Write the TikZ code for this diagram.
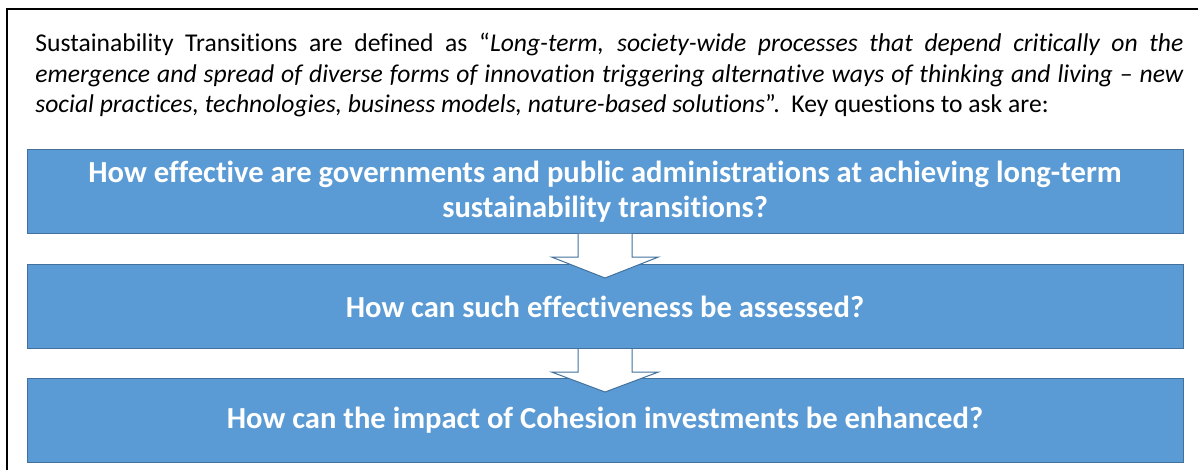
\documentclass[tikz,border=0pt]{standalone}
\usepackage{fontspec}
\setmainfont{Carlito}[Ligatures=NoCommon]
\usetikzlibrary{positioning,calc}
\definecolor{qblue}{HTML}{5B9BD5}
\definecolor{qline}{HTML}{41719C}
\tikzset{
  question/.style={fill=qblue, draw=qline, line width=0.5pt, text=white,
    font=\fontsize{15.3}{17.8}\selectfont\bfseries, align=center,
    minimum width=578pt, minimum height=42pt, inner sep=0pt},
  downarrow/.style={fill=white, draw=qline, line width=0.5pt}
}
\begin{document}
\begin{tikzpicture}[x=0.5pt,y=-0.5pt]
    \useasboundingbox (0,0) rectangle (1198,470);
    % frame
    \draw[line width=1pt] (7,470) -- (7,9) -- (1198,9);
    \node[anchor=north west, inner sep=0pt, text width=574pt, align=justify,
        font=\fontsize{12.8}{15.2}\selectfont] (intro) at (35,33)
        {Sustainability Transitions are defined as \char"201C\textit{Long-term, society-wide processes that depend critically on the\linebreak
        emergence and spread of diverse forms of innovation triggering alternative ways of thinking and living -- new\linebreak
        social practices, technologies, business models, nature-based solutions}\char"201D.\ \ Key questions to ask are:};
    \node[question] (q1) at (605,191.5)
        {How effective are governments and public administrations at achieving long-term\\ sustainability transitions?};
    \node[question, below=15pt of q1] (q2) {How can such effectiveness be assessed?};
    \node[question, below=14.5pt of q2] (q3) {How can the impact of Cohesion investments be enhanced?};
    % block arrows
    \foreach \a/\b in {q1/q2,q2/q3}
        \draw[downarrow] ($(\a.south)+(-27,0)$) -- ++(0,23) -- ++(-26.5,0)
            -- ($(\b.north)+(0,14)$) -- ($(\a.south)+(53.5,23)$) -- ++(-26.5,0) -- ++(0,-23);
\end{tikzpicture}
\end{document}
